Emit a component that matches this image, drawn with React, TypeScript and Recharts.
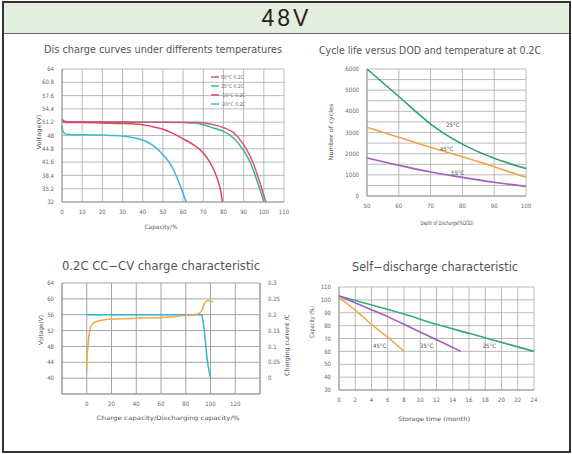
import { LineChart, Line, XAxis, YAxis, CartesianGrid, ReferenceDot } from 'recharts'

const FONT = "'DejaVu Sans Condensed', 'Liberation Sans Narrow', 'Liberation Sans', sans-serif"

// --- discharge curves: capacity (%) vs voltage (V)
const dchCap50 = [0, 1, 3, 10, 20, 30, 40, 50, 60, 68, 72, 76, 80, 85, 90, 93, 95, 97, 99, 101]
const dchV50 = [52.0, 51.5, 51.3, 51.3, 51.3, 51.3, 51.2, 51.2, 51.2, 51.1, 50.9, 50.5, 49.9, 48.7, 45.8, 43.2, 41.0, 38.2, 35.2, 32]
const dchCap25 = [0, 1, 3, 10, 20, 30, 40, 50, 60, 66, 70, 75, 80, 85, 90, 93, 95, 97, 98.5, 100]
const dchV25 = [51.6, 51.3, 51.2, 51.2, 51.2, 51.2, 51.2, 51.2, 51.1, 51.0, 50.6, 49.8, 49.0, 47.4, 44.4, 41.8, 39.4, 36.6, 34.4, 32]
const dchCapM10 = [0, 1, 3, 10, 20, 30, 35, 40, 45, 50, 55, 60, 65, 70, 73, 75, 77, 78.5, 79.5]
const dchVM10 = [51.7, 51.2, 51.1, 51.1, 51.0, 50.9, 50.8, 50.6, 50.1, 49.5, 48.5, 47.2, 45.8, 43.8, 41.8, 40.0, 37.5, 35.0, 32]
const dchCapM20 = [0, 0.5, 2, 5, 10, 20, 30, 35, 40, 45, 50, 53, 55, 57, 59, 60.5, 61.5]
const dchVM20 = [50.3, 49.0, 48.3, 48.2, 48.2, 48.1, 47.9, 47.5, 46.9, 45.6, 43.4, 41.6, 40.0, 37.8, 35.4, 33.4, 32]
const dchTicksX = [0, 10, 20, 30, 40, 50, 60, 70, 80, 90, 100, 110]
const dchTicksY = [32, 35.2, 38.4, 41.6, 44.8, 48, 51.2, 54.4, 57.6, 60.8, 64]
const dchLegend = ['50°C  0.2C', '25°C  0.2C', '-10°C  0.2C', '-20°C  0.2C']

// --- cycle life vs DOD
const dodX = [50, 60, 70, 80, 90, 100]
const cycles25 = [6000, 4700, 3400, 2450, 1780, 1300]
const cycles45 = [3250, 2780, 2300, 1850, 1380, 880]
const cycles55 = [1800, 1450, 1130, 880, 650, 450]
const cycTicksY = [0, 500, 1000, 1500, 2000, 2500, 3000, 3500, 4000, 4500, 5000, 5500, 6000]

// --- 0.2C CC-CV charge
const chgCapX = [0, 0.3, 1, 2, 3, 5, 8, 12, 20, 30, 40, 50, 60, 70, 80, 86, 90, 92, 94, 95, 96, 98, 100, 102]
const chgVolt = [41.7, 45, 48.2, 51.2, 52.7, 53.8, 54.3, 54.6, 54.9, 55.0, 55.1, 55.2, 55.3, 55.5, 55.8, 56.0, 56.2, 56.6, 57.8, 58.8, 59.2, 59.6, 59.4, 59.3]
const curCapX = [0, 93, 94, 95, 96, 97, 98, 99, 100]
const curVal = [0.2, 0.2, 0.18, 0.15, 0.11, 0.07, 0.04, 0.02, 0]
const chgTicksX = [-20, 0, 20, 40, 60, 80, 100, 120, 140]
const chgTicksV = [36, 40, 44, 48, 52, 56, 60, 64]
const chgTicksC = [-0.05, 0, 0.05, 0.1, 0.15, 0.2, 0.25, 0.3]

// --- self-discharge
const sd45X = [0, 2, 4, 6, 8]
const sd45 = [102, 92, 81, 71, 60]
const sd35X = [0, 3, 6, 9, 12, 15]
const sd35 = [103, 95, 87, 78, 69, 60]
const sd25X = [0, 4, 8, 12, 16, 20, 24]
const sd25 = [103, 96, 89, 81, 74, 67, 60]
const sdTicksX = [0, 2, 4, 6, 8, 10, 12, 14, 16, 18, 20, 22, 24]
const sdTicksY = [30, 40, 50, 60, 70, 80, 90, 100, 110]

const pts = (xs: number[], ys: number[]) => xs.map((x, i) => ({ x, y: ys[i] }))

const tick = { fontSize: 6, fill: '#666', fontFamily: FONT }
const axisLine = { stroke: '#999' }

const C50 = '#d25b7c'
const C25 = '#3db388'
const CM10 = '#d9485e'
const CM20 = '#3fb6d3'

const seriesLabel = (value: string) => ({ value, fontSize: 6, fill: '#555', fontFamily: FONT, position: 'center' as const })

function Txt({ x, y, w, size, rot, children }: { x: number; y: number; w: number; size: number; rot?: number; children: string }) {
  return (
    <text
      x={x}
      y={y}
      fontSize={size}
      fill="#555"
      fontFamily={FONT}
      textAnchor="middle"
      dominantBaseline="central"
      textLength={w}
      lengthAdjust="spacingAndGlyphs"
      transform={rot ? `rotate(${rot} ${x} ${y})` : undefined}
    >
      {children}
    </text>
  )
}

export default function App() {
  return (
    <div style={{ position: 'absolute', left: 0, top: 0, width: 572, height: 454, background: '#fff', overflow: 'hidden' }}>
      <div
        style={{
          position: 'absolute', left: 2, top: 1, width: 569, height: 452, border: '2px solid #333',
          boxSizing: 'border-box',
        }}
      >
        <div
          style={{
            height: 30, background: '#e4eedf', borderBottom: '1px solid #666', textAlign: 'center',
            fontFamily: "'Liberation Sans', Arial, sans-serif", fontSize: 23, letterSpacing: 3, lineHeight: '31px', color: '#222',
          }}
        >
          48V
        </div>
      </div>

      {/* discharge curves */}
      <div style={{ position: 'absolute', left: 0, top: 36 }}>
        <LineChart width={300} height={200} margin={{ top: 33, right: 16, bottom: 20, left: 32 }}>
          <CartesianGrid stroke="#aaa" strokeWidth={0.8} />
          <XAxis type="number" dataKey="x" domain={[0, 110]} ticks={dchTicksX} interval={0} height={14} tick={tick} tickLine={false} axisLine={axisLine} />
          <YAxis type="number" dataKey="y" domain={[32, 64]} ticks={dchTicksY} interval={0} width={30} tick={tick} tickLine={false} axisLine={axisLine} />
          <Line data={pts(dchCap25, dchV25)} dataKey="y" type="monotone" stroke={C25} strokeWidth={1.5} dot={false} isAnimationActive={false} />
          <Line data={pts(dchCap50, dchV50)} dataKey="y" type="monotone" stroke={C50} strokeWidth={1.5} dot={false} isAnimationActive={false} />
          <Line data={pts(dchCapM10, dchVM10)} dataKey="y" type="monotone" stroke={CM10} strokeWidth={1.5} dot={false} isAnimationActive={false} />
          <Line data={pts(dchCapM20, dchVM20)} dataKey="y" type="monotone" stroke={CM20} strokeWidth={1.5} dot={false} isAnimationActive={false} />
        </LineChart>
      </div>

      {/* cycle life */}
      <div style={{ position: 'absolute', left: 290, top: 36 }}>
        <LineChart width={282} height={200} margin={{ top: 33, right: 46, bottom: 26, left: 45 }}>
          <CartesianGrid stroke="#aaa" strokeWidth={0.8} />
          <XAxis type="number" dataKey="x" domain={[50, 100]} ticks={dodX} interval={0} height={14} tick={tick} tickLine={false} axisLine={axisLine} />
          <YAxis type="number" dataKey="y" domain={[0, 6000]} ticks={cycTicksY} interval={0} width={32} tick={tick} tickLine={false} axisLine={axisLine}
            tickFormatter={(v: number) => (v % 1000 === 0 ? String(v) : '')} />
          <Line data={pts(dodX, cycles25)} dataKey="y" type="monotone" stroke="#2e9e7a" strokeWidth={1.6} dot={false} isAnimationActive={false} />
          <Line data={pts(dodX, cycles45)} dataKey="y" type="monotone" stroke="#f2a546" strokeWidth={1.6} dot={false} isAnimationActive={false} />
          <Line data={pts(dodX, cycles55)} dataKey="y" type="monotone" stroke="#a35dbf" strokeWidth={1.6} dot={false} isAnimationActive={false} />
          <ReferenceDot x={77} y={3350} r={0} fill="none" stroke="none" label={seriesLabel('25°C')} />
          <ReferenceDot x={75} y={2250} r={0} fill="none" stroke="none" label={seriesLabel('45°C')} />
          <ReferenceDot x={78.5} y={1100} r={0} fill="none" stroke="none" label={seriesLabel('55°C')} />
        </LineChart>
      </div>

      {/* CC-CV charge */}
      <div style={{ position: 'absolute', left: 0, top: 250 }}>
        <LineChart width={300} height={200} margin={{ top: 33, right: 12, bottom: 42, left: 34 }}>
          <CartesianGrid yAxisId="v" stroke="#999" strokeWidth={0.9} />
          <XAxis type="number" dataKey="x" domain={[-20, 140]} ticks={chgTicksX} interval={0} height={14} tick={tick} tickLine={false} axisLine={axisLine}
            tickFormatter={(v: number) => (v < 0 || v > 120 ? '' : String(v))} />
          <YAxis yAxisId="v" type="number" dataKey="y" domain={[36, 64]} ticks={chgTicksV} interval={0} width={28} tick={tick} tickLine={false} axisLine={axisLine}
            tickFormatter={(v: number) => (v < 40 ? '' : String(v))} />
          <YAxis yAxisId="c" orientation="right" type="number" dataKey="y" domain={[-0.05, 0.3]} ticks={chgTicksC} interval={0} width={28} tick={tick} tickLine={false} axisLine={axisLine}
            tickFormatter={(v: number) => (v < -0.001 ? '' : String(Math.round(v * 100) / 100))} />
          <Line yAxisId="c" data={pts(curCapX, curVal)} dataKey="y" type="linear" stroke="#37b5cc" strokeWidth={1.5} dot={false} isAnimationActive={false} />
          <Line yAxisId="v" data={pts(chgCapX, chgVolt)} dataKey="y" type="monotone" stroke="#f0a848" strokeWidth={1.5} dot={false} isAnimationActive={false} />
        </LineChart>
      </div>

      {/* self-discharge */}
      <div style={{ position: 'absolute', left: 290, top: 250 }}>
        <LineChart width={282} height={200} margin={{ top: 37, right: 38, bottom: 46, left: 23 }}>
          <CartesianGrid stroke="#aaa" strokeWidth={0.8} />
          <XAxis type="number" dataKey="x" domain={[0, 24]} ticks={sdTicksX} interval={0} height={14} tick={tick} tickLine={false} axisLine={axisLine} />
          <YAxis type="number" dataKey="y" domain={[30, 110]} ticks={sdTicksY} interval={0} width={26} tick={tick} tickLine={false} axisLine={axisLine} />
          <Line data={pts(sd25X, sd25)} dataKey="y" type="monotone" stroke="#33a97f" strokeWidth={1.6} dot={false} isAnimationActive={false} />
          <Line data={pts(sd35X, sd35)} dataKey="y" type="monotone" stroke="#9f5fc0" strokeWidth={1.6} dot={false} isAnimationActive={false} />
          <Line data={pts(sd45X, sd45)} dataKey="y" type="monotone" stroke="#f0aa50" strokeWidth={1.6} dot={false} isAnimationActive={false} />
          <ReferenceDot x={5} y={64.5} r={0} fill="none" stroke="none" label={seriesLabel('45°C')} />
          <ReferenceDot x={10.8} y={64.5} r={0} fill="none" stroke="none" label={seriesLabel('35°C')} />
          <ReferenceDot x={18.5} y={64.5} r={0} fill="none" stroke="none" label={seriesLabel('25°C')} />
        </LineChart>
      </div>

      {/* titles, axis names, legend */}
      <svg width={572} height={454} style={{ position: 'absolute', left: 0, top: 0, pointerEvents: 'none' }}>
        <Txt x={163} y={49} w={238} size={10.5}>Dis charge curves under differents temperatures</Txt>
        <Txt x={430} y={50} w={222} size={10.5}>Cycle life versus DOD and temperature at 0.2C</Txt>
        <Txt x={161} y={266} w={198} size={12}>0.2C  CC−CV charge characteristic</Txt>
        <Txt x={435} y={267} w={166} size={12}>Self−discharge characteristic</Txt>

        <Txt x={38} y={132} w={35} size={6} rot={-90}>Voltage(V)</Txt>
        <Txt x={161} y={226} w={33} size={6}>Capacity/%</Txt>
        <Txt x={330} y={132} w={57} size={6} rot={-90}>Number of cycles</Txt>
        <Txt x={447} y={222} w={53} size={6}>Depth of Discharge(%DOD)</Txt>
        <Txt x={40} y={330} w={30} size={6} rot={-90}>Voltage(V)</Txt>
        <Txt x={286} y={345} w={62} size={6} rot={-90}>Charging current /C</Txt>
        <Txt x={168} y={417} w={143} size={6}>Charge capacity/Discharging capacity/%</Txt>
        <Txt x={311} y={322} w={32} size={6} rot={-90}>Capacity (%)</Txt>
        <Txt x={434} y={418} w={72} size={6}>Storage time (month)</Txt>

        {[C50, C25, CM10, CM20].map((c, i) => (
          <g key={i}>
            <line x1={211} x2={219} y1={77 + i * 9} y2={77 + i * 9} stroke={c} strokeWidth={1.5} />
            <text x={221} y={77 + i * 9} fontSize={5} fill="#666" fontFamily={FONT} dominantBaseline="central">{dchLegend[i]}</text>
          </g>
        ))}
      </svg>
    </div>
  )
}
